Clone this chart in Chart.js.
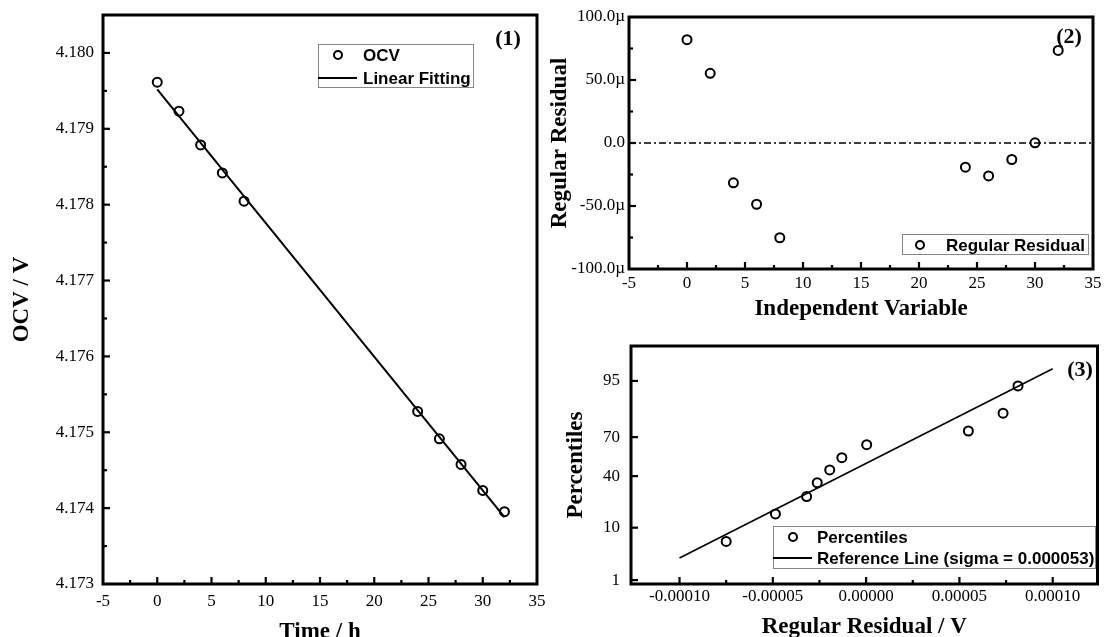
<!DOCTYPE html>
<html>
<head>
<meta charset="utf-8">
<title>OCV linear fitting</title>
<script src="https://cdn.jsdelivr.net/npm/chart.js@4.4.1/dist/chart.umd.min.js"></script>
<style>
  html, body { margin: 0; padding: 0; background: #fff; width: 1104px; height: 637px; overflow: hidden; }
  .panel { position: absolute; }
</style>
</head>
<body>
<div class="panel" style="left:0;top:0"><canvas id="ocvChart" width="560" height="650"></canvas></div>
<div class="panel" style="left:535px;top:0"><canvas id="residualChart" width="569" height="330"></canvas></div>
<div class="panel" style="left:535px;top:330px"><canvas id="probChart" width="569" height="320"></canvas></div>
<script>
// ---- data ----
const hours = [0, 2, 4, 6, 8, 24, 26, 28, 30, 32];
const ocv = [4.179614, 4.179232, 4.178788, 4.178419, 4.178046, 4.175274, 4.174914, 4.174576, 4.174233, 4.173953];
const fitHours = [0, 32];
const fitOcv = [4.17952, 4.17388];

// regular residual, in micro volts
const residual = [82.0, 55.3, -31.6, -48.6, -75.2, -19.2, -26.1, -13.1, 0.1, 73.5];
const zeroLineX = [-5, 35];

// normal probability plot
const sortedResidual = [-0.0000750, -0.0000486, -0.0000319, -0.0000262, -0.0000195, -0.0000130, 0.0000003, 0.0000548, 0.0000734, 0.0000814];
const percentiles = [6.0, 15.7, 25.4, 35.0, 44.8, 54.6, 64.6, 74.1, 84.2, 93.9];
const refLineX = [-0.0001, 0.0001];
const refLinePct = [2.96, 97.04];

// tick labels
const timeTicks = [-5, 0, 5, 10, 15, 20, 25, 30, 35];
const ocvTicks = [4.173, 4.174, 4.175, 4.176, 4.177, 4.178, 4.179, 4.180];
const residualTicks = [-100, -50, 0, 50, 100];
const residualVTicks = [-0.0001, -0.00005, 0, 0.00005, 0.0001];
const percentileTicks = [1, 10, 40, 70, 95];

// ---- helpers ----
// inverse normal CDF (Acklam) for the probability axis
function probit(p) {
  const a = [-3.969683028665376e+01, 2.209460984245205e+02, -2.759285104469687e+02, 1.383577518672690e+02, -3.066479806614716e+01, 2.506628277459239e+00];
  const b = [-5.447609879822406e+01, 1.615858368580409e+02, -1.556989798598866e+02, 6.680131188771972e+01, -1.328068155288572e+01];
  const c = [-7.784894002430293e-03, -3.223964580411365e-01, -2.400758277161838e+00, -2.549732539343734e+00, 4.374664141464968e+00, 2.938163982698783e+00];
  const d = [7.784695709041462e-03, 3.224671290700398e-01, 2.445134137142996e+00, 3.754408661907416e+00];
  const pl = 0.02425;
  let q, r;
  if (p < pl) {
    q = Math.sqrt(-2 * Math.log(p));
    return (((((c[0]*q+c[1])*q+c[2])*q+c[3])*q+c[4])*q+c[5]) / ((((d[0]*q+d[1])*q+d[2])*q+d[3])*q+1);
  }
  if (p > 1 - pl) {
    q = Math.sqrt(-2 * Math.log(1 - p));
    return -(((((c[0]*q+c[1])*q+c[2])*q+c[3])*q+c[4])*q+c[5]) / ((((d[0]*q+d[1])*q+d[2])*q+d[3])*q+1);
  }
  q = p - 0.5; r = q * q;
  return (((((a[0]*r+a[1])*r+a[2])*r+a[3])*r+a[4])*r+a[5])*q / (((((b[0]*r+b[1])*r+b[2])*r+b[3])*r+b[4])*r+1);
}

const pts = (xs, ys) => xs.map((x, i) => ({ x, y: ys[i] }));

// majors plus a minor tick half way between each pair
function withMinor(majors) {
  const out = [];
  majors.forEach((v, i) => {
    out.push({ value: v });
    if (i < majors.length - 1) out.push({ value: (v + majors[i + 1]) / 2, minor: true });
  });
  return out;
}

const SERIF = 'Liberation Serif';
const SANS = 'Liberation Sans';
Chart.defaults.font.family = SERIF;
Chart.defaults.font.size = 17;
Chart.defaults.color = '#000';

// inside ticks + thick frame
const frameTicks = {
  id: 'frameTicks',
  afterDraw(chart) {
    const { ctx, chartArea: a } = chart;
    const xs = chart.scales.x, ys = chart.scales.y;
    ctx.save();
    ctx.strokeStyle = '#000';
    ctx.lineWidth = 2.2;
    xs.ticks.forEach(t => {
      const px = xs.getPixelForValue(t.value);
      if (px <= a.left + 2 || px >= a.right - 2) return;
      const len = t.minor ? 4 : 7;
      ctx.beginPath(); ctx.moveTo(px, a.bottom); ctx.lineTo(px, a.bottom - len); ctx.stroke();
    });
    ys.ticks.forEach(t => {
      const py = ys.getPixelForValue(t.value);
      if (py <= a.top + 2 || py >= a.bottom - 2) return;
      const len = t.minor ? 4 : 7;
      ctx.beginPath(); ctx.moveTo(a.left, py); ctx.lineTo(a.left + len, py); ctx.stroke();
    });
    ctx.lineWidth = 3;
    ctx.strokeRect(a.left, a.top, a.right - a.left, a.bottom - a.top);
    ctx.restore();
  }
};

// framed legend and panel number, placed relative to the plot area
const boxLegend = {
  id: 'boxLegend',
  afterDraw(chart, args, opts) {
    const { ctx, chartArea: a } = chart;
    const L = opts.legend;
    ctx.save();
    const bx = a.left + L.x, by = a.top + L.y;
    ctx.fillStyle = '#fff';
    ctx.fillRect(bx, by, L.w, L.h);
    ctx.strokeStyle = '#888';
    ctx.lineWidth = 1;
    ctx.strokeRect(bx + 0.5, by + 0.5, L.w, L.h);
    ctx.font = 'bold 17px "' + SANS + '"';
    ctx.textBaseline = 'middle';
    ctx.textAlign = 'left';
    ctx.fillStyle = '#000';
    L.rows.forEach(row => {
      const cy = by + row.dy;
      ctx.strokeStyle = '#000';
      if (row.type === 'circle') {
        ctx.lineWidth = 2;
        ctx.beginPath(); ctx.arc(bx + L.markerX, cy, 4, 0, Math.PI * 2); ctx.stroke();
      } else {
        ctx.lineWidth = 2;
        ctx.beginPath(); ctx.moveTo(bx, cy); ctx.lineTo(bx + L.lineEnd, cy); ctx.stroke();
      }
      ctx.fillText(row.text, bx + L.textX, cy + 1);
    });
    const P = opts.panel;
    ctx.font = 'bold 22px "' + SERIF + '"';
    ctx.textAlign = 'center';
    ctx.fillText(P.text, a.left + P.x, a.top + P.y);
    ctx.restore();
  }
};

const titleFont = { family: SERIF, weight: 'bold', size: 23 };

function fixBox(size) {
  return scale => {
    if (scale.isHorizontal()) scale.height = size; else scale.width = size;
    scale.paddingLeft = scale.paddingRight = scale.paddingTop = scale.paddingBottom = 0;
  };
}

function baseOptions(padding) {
  return {
    responsive: false,
    animation: false,
    events: [],
    layout: { padding },
    plugins: { legend: { display: false }, tooltip: { enabled: false } }
  };
}

const scatterSet = data => ({
  data, showLine: false, pointRadius: 4.5, pointBorderWidth: 2,
  pointBorderColor: '#000', pointBackgroundColor: 'rgba(0,0,0,0)', pointStyle: 'circle'
});
const lineSet = (data, width, dash) => ({
  data, showLine: true, pointRadius: 0, borderColor: '#000', borderWidth: width,
  borderDash: dash || [], fill: false
});

// ---- (1) OCV vs time ----
const o1 = baseOptions({ top: 15, right: 23, left: 0, bottom: 0 });
o1.scales = {
  x: {
    type: 'linear', min: -5, max: 35,
    afterBuildTicks: s => { s.ticks = withMinor(timeTicks); },
    afterFit: fixBox(66),
    grid: { display: false, drawTicks: false }, border: { display: false },
    ticks: { autoSkip: false, maxRotation: 0, padding: 7, callback: (v, i, t) => t[i].minor ? '' : String(v) },
    title: { display: true, text: 'Time / h', font: titleFont, padding: { top: 0, bottom: 4 } }
  },
  y: {
    type: 'linear', min: 4.173, max: 4.1805,
    afterBuildTicks: s => { s.ticks = withMinor(ocvTicks); },
    afterFit: fixBox(103),
    grid: { display: false, drawTicks: false }, border: { display: false },
    ticks: { autoSkip: false, padding: 9, callback: (v, i, t) => t[i].minor ? '' : v.toFixed(3) },
    title: { display: true, text: 'OCV / V', font: titleFont, padding: { top: 8, bottom: 0 } }
  }
};
o1.plugins.boxLegend = {
  legend: { x: 215, y: 29, w: 155, h: 43, markerX: 20, textX: 45, lineEnd: 39,
    rows: [{ type: 'circle', text: 'OCV', dy: 11 }, { type: 'line', text: 'Linear Fitting', dy: 34 }] },
  panel: { text: '(1)', x: 405, y: 24 }
};
new Chart(document.getElementById('ocvChart'), {
  type: 'scatter',
  data: { datasets: [scatterSet(pts(hours, ocv)), lineSet(pts(fitHours, fitOcv), 2)] },
  options: o1,
  plugins: [frameTicks, boxLegend]
});

// ---- (2) residual vs independent variable ----
const o2 = baseOptions({ top: 17, right: 11, left: 0, bottom: 0 });
o2.scales = {
  x: {
    type: 'linear', min: -5, max: 35,
    afterBuildTicks: s => { s.ticks = withMinor(timeTicks); },
    afterFit: fixBox(61),
    grid: { display: false, drawTicks: false }, border: { display: false },
    ticks: { autoSkip: false, maxRotation: 0, padding: 4, callback: (v, i, t) => t[i].minor ? '' : String(v) },
    title: { display: true, text: 'Independent Variable', font: titleFont, padding: { top: 0, bottom: 7 } }
  },
  y: {
    type: 'linear', min: -100, max: 100,
    afterBuildTicks: s => { s.ticks = withMinor(residualTicks); },
    afterFit: fixBox(94),
    grid: { display: false, drawTicks: false }, border: { display: false },
    ticks: { autoSkip: false, padding: 4, callback: (v, i, t) => t[i].minor ? '' : (v === 0 ? '0.0' : v.toFixed(1) + 'µ') },
    title: { display: true, text: 'Regular Residual', font: titleFont, padding: { top: 11, bottom: 0 } }
  }
};
o2.plugins.boxLegend = {
  legend: { x: 273, y: 217, w: 186, h: 20, markerX: 18, textX: 44, lineEnd: 36,
    rows: [{ type: 'circle', text: 'Regular Residual', dy: 11 }] },
  panel: { text: '(2)', x: 440, y: 20 }
};
new Chart(document.getElementById('residualChart'), {
  type: 'scatter',
  data: { datasets: [scatterSet(pts(hours, residual)), lineSet(pts(zeroLineX, [0, 0]), 1.3, [7, 3, 2, 3])] },
  options: o2,
  plugins: [frameTicks, boxLegend]
});

// ---- (3) normal probability plot ----
const o3 = baseOptions({ top: 16, right: 3, left: 0, bottom: 0 });
o3.scales = {
  x: {
    type: 'linear', min: -0.000126, max: 0.000124,
    afterBuildTicks: s => { s.ticks = withMinor(residualVTicks); },
    afterFit: fixBox(66),
    grid: { display: false, drawTicks: false }, border: { display: false },
    ticks: { autoSkip: false, maxRotation: 0, padding: 2, callback: (v, i, t) => t[i].minor ? '' : v.toFixed(5) },
    title: { display: true, text: 'Regular Residual / V', font: titleFont, padding: { top: 0, bottom: 9 } }
  },
  y: {
    type: 'linear', min: probit(0.0081), max: probit(0.9904),
    afterBuildTicks: s => { s.ticks = percentileTicks.map(p => ({ value: probit(p / 100), pct: p })); },
    afterFit: fixBox(96),
    grid: { display: false, drawTicks: false }, border: { display: false },
    ticks: { autoSkip: false, padding: 11, callback: (v, i, t) => String(t[i].pct) },
    title: { display: true, text: 'Percentiles', font: titleFont, padding: { top: 27, bottom: 0 } }
  }
};
o3.plugins.boxLegend = {
  legend: { x: 142, y: 180, w: 322, h: 42, markerX: 20, textX: 44, lineEnd: 39,
    rows: [{ type: 'circle', text: 'Percentiles', dy: 11 }, { type: 'line', text: 'Reference Line (sigma = 0.000053)', dy: 32 }] },
  panel: { text: '(3)', x: 449, y: 24 }
};
new Chart(document.getElementById('probChart'), {
  type: 'scatter',
  data: { datasets: [
    scatterSet(pts(sortedResidual, percentiles.map(p => probit(p / 100)))),
    lineSet(pts(refLineX, refLinePct.map(p => probit(p / 100))), 1.6)
  ] },
  options: o3,
  plugins: [frameTicks, boxLegend]
});
</script>
</body>
</html>
